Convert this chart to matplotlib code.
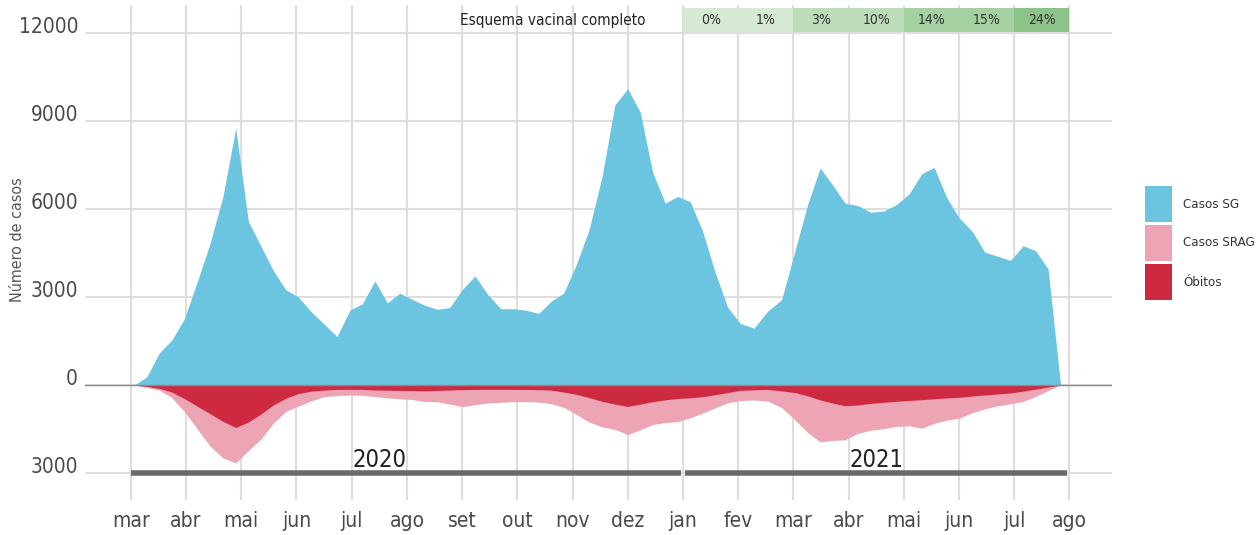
import matplotlib
matplotlib.use('Agg')
import matplotlib.pyplot as plt
import matplotlib.transforms as mtransforms
from matplotlib.patches import Rectangle
import pandas as pd
import numpy as np

plt.rcParams['font.family'] = ['DejaVu Sans']
plt.rcParams['font.stretch'] = 'condensed'

# weekly series, Tuesdays from 2020-03-03 to 2021-07-27
weeks = pd.date_range('2020-03-03', periods=74, freq='7D')

casos_sg = [
    0, 280, 1100, 1530, 2250, 3500, 4820, 6420, 8750, 5580,
    4740, 3900, 3250, 3000, 2500, 2080, 1650, 2550, 2770, 3550,
    2800, 3130, 2920, 2720, 2580, 2640, 3250, 3720, 3080, 2600,
    2600, 2550, 2440, 2860, 3130, 4100, 5300, 7100, 9550, 10100,
    9300, 7250, 6200, 6430, 6250, 5250, 3850, 2660, 2100, 1940,
    2520, 2910, 4600, 6150, 7400, 6820, 6200, 6120, 5890, 5930,
    6150, 6520, 7200, 7420, 6400, 5700, 5250, 4530, 4390, 4250,
    4750, 4580, 3950, 0,
]
casos_srag = [
    0, 80, 175, 430, 900, 1490, 2080, 2480, 2660, 2230,
    1850, 1300, 900, 720, 540, 400, 360, 340, 350, 395,
    440, 470, 495, 565, 566, 650, 736, 670, 610, 590,
    566, 566, 580, 635, 760, 1000, 1265, 1430, 1510, 1690,
    1525, 1350, 1280, 1250, 1120, 955, 780, 610, 530, 510,
    550, 770, 1190, 1620, 1940, 1890, 1868, 1650, 1540, 1490,
    1410, 1390, 1470, 1310, 1200, 1132, 950, 810, 710, 640,
    560, 385, 190, 0,
]
obitos = [
    0, 50, 115, 240, 460, 720, 975, 1240, 1450, 1260,
    990, 680, 450, 290, 210, 175, 150, 147, 150, 170,
    178, 186, 192, 200, 185, 170, 160, 150, 147, 147,
    147, 152, 160, 172, 240, 315, 430, 555, 650, 730,
    650, 570, 505, 460, 435, 400, 330, 260, 180, 165,
    150, 200, 260, 370, 510, 615, 710, 680, 625, 590,
    555, 525, 500, 470, 440, 420, 375, 340, 305, 270,
    210, 140, 70, 0,
]

month_labels = ['mar', 'abr', 'mai', 'jun', 'jul', 'ago', 'set', 'out', 'nov',
                'dez', 'jan', 'fev', 'mar', 'abr', 'mai', 'jun', 'jul', 'ago']
year_labels = ['2020', '2021']

vac_labels = ['0%', '1%', '3%', '10%', '14%', '15%', '24%']
vac_colors = ['#d6e9d3', '#d6e9d3', '#bddcb9', '#bddcb9', '#a5d0a1', '#a5d0a1', '#8cc388']

c_sg = '#6cc5e0'
c_srag = '#eda4b4'
c_obito = '#cd2a42'

# months since march 2020, equal width per month
x = np.array([(d.year - 2020) * 12 + d.month - 3 + (d.day - 1) / d.days_in_month
              for d in weeks])

W, H = 1256, 535
fig = plt.figure(figsize=(W / 100, H / 100), dpi=100)
ax = fig.add_axes([85 / W, 35 / H, (1112 - 85) / W, (530 - 35) / H])

ax.fill_between(x, 0, casos_sg, color=c_sg, lw=0, zorder=2)
ax.fill_between(x, 0, -np.array(casos_srag), color=c_srag, lw=0, zorder=2)
ax.fill_between(x, 0, -np.array(obitos), color=c_obito, lw=0, zorder=3)
ax.axhline(0, color='#8a8a8a', lw=1, zorder=4)

ax.set_xlim(-0.83, 17.77)
ax.set_ylim(-3920, 12955)

ax.set_xticks(range(len(month_labels)))
ax.set_xticklabels(month_labels)
ax.set_yticks([-3000, 0, 3000, 6000, 9000, 12000])
ax.set_yticklabels([str(abs(v)) for v in [-3000, 0, 3000, 6000, 9000, 12000]])
ax.tick_params(axis='both', length=0, labelsize=15, colors='#4a4a4a')
ax.tick_params(axis='x', pad=8)
ax.tick_params(axis='y', pad=5)
shift = mtransforms.ScaledTranslation(0, 6 / 72, fig.dpi_scale_trans)
for lab in ax.get_yticklabels():
    lab.set_transform(lab.get_transform() + shift)

ax.grid(True, color='#dedede', lw=1.5, zorder=0)
ax.set_axisbelow(True)
for s in ax.spines.values():
    s.set_visible(False)

fig.text(18 / W, 1 - 240 / H, 'Número de casos', rotation=90, ha='center', va='center',
         fontsize=11.5, color='#555555')

# year bars
ax.plot([0, 9.97], [-3000, -3000], color='#6a6a6a', lw=4, solid_capstyle='butt', zorder=5)
ax.plot([10.03, 16.95], [-3000, -3000], color='#6a6a6a', lw=4, solid_capstyle='butt', zorder=5)
ax.text(4.5, -2950, year_labels[0], ha='center', va='bottom', fontsize=17, color='#222222')
ax.text(13.5, -2950, year_labels[1], ha='center', va='bottom', fontsize=17, color='#222222')

# vaccination strip
for i, (lab, col) in enumerate(zip(vac_labels, vac_colors)):
    ax.add_patch(Rectangle((10 + i, 12030), 1, 820, facecolor=col, edgecolor='none', zorder=3))
    ax.text(10.5 + i, 12440, lab, ha='center', va='center', fontsize=10, color='#333333', zorder=4)
ax.text(7.64, 12440, 'Esquema vacinal completo', ha='center', va='center',
        fontsize=11, color='#222222', zorder=4)

# legend
leg_items = [('Casos SG', c_sg), ('Casos SRAG', c_srag), ('Óbitos', c_obito)]
for i, (lab, col) in enumerate(leg_items):
    top = 186 + i * 39
    fig.patches.append(Rectangle((1145 / W, 1 - (top + 36) / H), 27 / W, 36 / H,
                                 facecolor=col, edgecolor='none',
                                 transform=fig.transFigure, figure=fig))
    fig.text(1183 / W, 1 - (top + 18) / H, lab, ha='left', va='center',
             fontsize=9.5, color='#333333')

fig.savefig('out.png', dpi=100)
